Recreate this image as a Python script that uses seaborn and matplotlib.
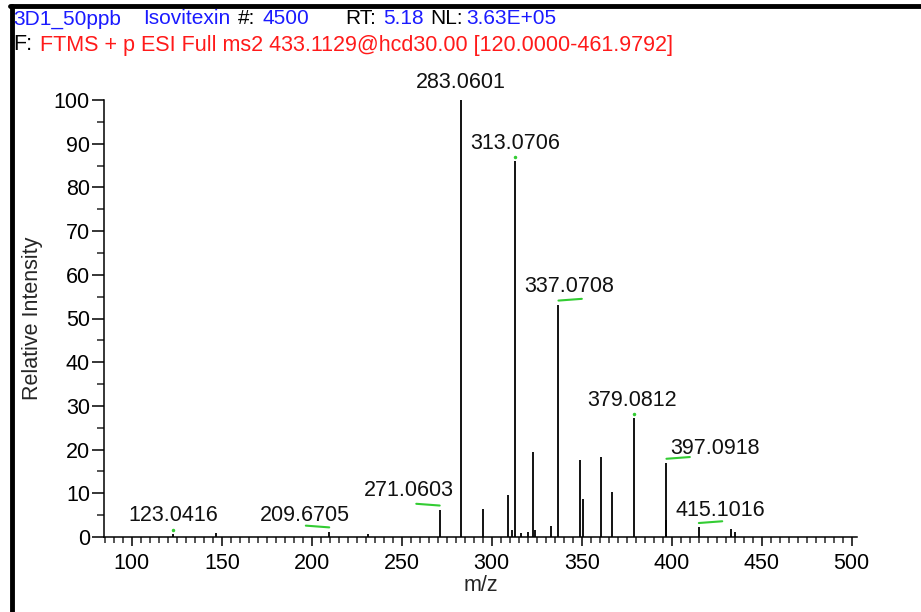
import matplotlib.pyplot as plt
import seaborn as sns
import pandas as pd
from matplotlib.lines import Line2D
from matplotlib.ticker import MultipleLocator

# Theme first, fonts after (set_theme resets font.family)
sns.set_theme(style="ticks")
plt.rcParams["font.family"] = ["Liberation Sans", "DejaVu Sans"]

# Peak list (m/z, relative intensity)
mz = [123.0416, 147.0, 209.6705, 231.0, 271.0603, 283.0601, 295.0, 309.1, 311.0,
      313.0706, 316.2, 320.1, 323.0, 324.3, 332.7, 337.0708, 349.0, 350.7, 360.8,
      366.9, 379.0812, 396.6, 397.0918, 415.1016, 432.8, 435.2]
intensity = [0.8, 1.0, 1.2, 0.8, 6.2, 100, 6.4, 9.5, 1.6,
             86.0, 1.0, 1.2, 19.4, 1.6, 2.5, 53.1, 17.6, 8.6, 18.3,
             10.4, 27.2, 4.0, 16.9, 2.2, 1.8, 1.1]

# Labelled peaks
label_mz = [123.0416, 209.6705, 271.0603, 283.0601, 313.0706, 337.0708,
            379.0812, 397.0918, 415.1016]
label_text = ["123.0416", "209.6705", "271.0603", "283.0601", "313.0706",
              "337.0708", "379.0812", "397.0918", "415.1016"]

x_ticks = [100, 150, 200, 250, 300, 350, 400, 450, 500]
y_ticks = [0, 10, 20, 30, 40, 50, 60, 70, 80, 90, 100]

df = pd.DataFrame({"mz": mz, "intensity": intensity})
peak_height = dict(zip(mz, intensity))

W, H = 921, 612
fig = plt.figure(figsize=(W / 100, H / 100), dpi=100)
ax = fig.add_axes([104 / W, (H - 537) / H, (857 - 104) / W, (537 - 100) / H])

ax.vlines(df["mz"], 0, df["intensity"], color="black", linewidth=1.3)

ax.set_xlim(84.5, 503)
ax.set_ylim(0, 100)
ax.set_xticks(x_ticks)
ax.set_yticks(y_ticks)
ax.xaxis.set_minor_locator(MultipleLocator(5))
ax.yaxis.set_minor_locator(MultipleLocator(5))
ax.tick_params(axis="x", which="major", length=6.5, width=1.1, pad=5, labelsize=15.5, colors="black")
ax.tick_params(axis="x", which="minor", length=4, width=1.1)
ax.tick_params(axis="y", which="major", length=8.6, width=1.1, pad=1.5, labelsize=15.5, colors="black")
ax.tick_params(axis="y", which="minor", length=5, width=1.1)
sns.despine(ax=ax)
for side in ["left", "bottom"]:
    ax.spines[side].set_linewidth(1.1)
    ax.spines[side].set_color("black")

ax.set_xlabel("m/z", fontsize=15.5, labelpad=1)
ax.set_ylabel("Relative Intensity", fontsize=15.5, labelpad=8)

# label placement: (dx, dy) offsets in px from peak top; green mark direction
label_dx = [0, -24, -31, 0, 0, 11, -2, 49, 21]
label_dy = [18, 16, 19, 18, 18, 18, 18, 15, 17]
mark_dir = [0, -1, -1, 0, 0, 1, 0, 1, 1]
for m, txt, dx, dy, d in zip(label_mz, label_text, label_dx, label_dy, mark_dir):
    h = peak_height[m]
    ax.annotate(txt, xy=(m, h), xytext=(dx * 0.72, dy * 0.72), textcoords="offset points",
                ha="center", va="center", fontsize=15.5, color="#111111")
    if d == 0:
        ax.plot([m], [h + 0.9], marker="o", markersize=1.5, color="#33cc33", linestyle="none")
    else:
        ax.plot([m, m + d * 13], [h + 1.0, h + 1.4], color="#33cc33", linewidth=1.5,
                solid_capstyle="round")

# header lines
line1 = [("3D1_50ppb", 13, "#1a1aff"), ("Isovitexin", 143, "#1a1aff"), ("#:", 238, "black"),
         ("4500", 262, "#1a1aff"), ("RT:", 345, "black"), ("5.18", 383, "#1a1aff"),
         ("NL:", 430, "black"), ("3.63E+05", 466, "#1a1aff")]
for s, x, c in line1:
    fig.text(x / W, 1 - 19 / H, s, color=c, fontsize=15, va="center", ha="left")
fig.text(13 / W, 1 - 45 / H, "F:", color="black", fontsize=15.5, va="center", ha="left")
fig.text(40 / W, 1 - 45 / H, "FTMS + p ESI Full ms2 433.1129@hcd30.00 [120.0000-461.9792]",
         color="#ff1a1a", fontsize=15.5, va="center", ha="left")

# window frame (top and left edges)
fig.add_artist(Line2D([10 / W, 1], [1 - 6 / H, 1 - 6 / H], color="black", linewidth=3.5,
                      transform=fig.transFigure))
fig.add_artist(Line2D([12 / W, 12 / W], [0, 1 - 6 / H], color="black", linewidth=3.5,
                      transform=fig.transFigure))

fig.savefig("out.png", dpi=100)
